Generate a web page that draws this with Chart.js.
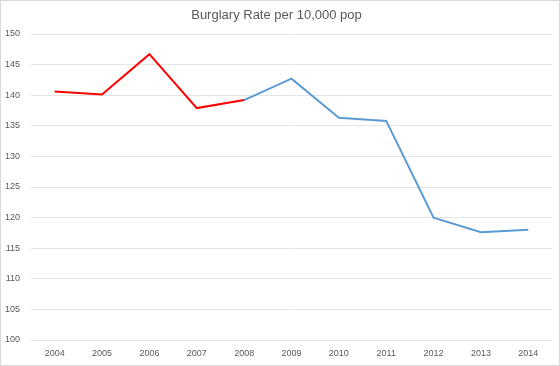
<!DOCTYPE html>
<html>
<head>
<meta charset="utf-8">
<script src="https://cdn.jsdelivr.net/npm/chart.js@4"></script>
<style>
  body { margin: 0; background: #fff; }
  #wrap { width: 558px; height: 364px; border: 1px solid #d9d9d9; }
</style>
</head>
<body>
<div id="wrap"><canvas id="c" width="558" height="364"></canvas></div>
<script>
const years = ['2004', '2005', '2006', '2007', '2008', '2009', '2010', '2011', '2012', '2013', '2014'];
// red part runs up to 2008, blue from 2008 on
const earlyRate = [140.6, 140.1, 146.7, 137.9, 139.2, null, null, null, null, null, null];
const lateRate = [null, null, null, null, 139.2, 142.7, 136.3, 135.8, 120.0, 117.6, 118.0];
const yTicks = [100, 105, 110, 115, 120, 125, 130, 135, 140, 145, 150];

const grey = '#595959';
const font = 'Liberation Sans, Arial, sans-serif';

new Chart(document.getElementById('c'), {
    type: 'line',
    data: {
        labels: years,
        datasets: [
            { data: earlyRate, borderColor: '#ff0000', borderWidth: 2, pointRadius: 0, tension: 0 },
            { data: lateRate, borderColor: '#5b9bd5', borderWidth: 2, pointRadius: 0, tension: 0 }
        ]
    },
    options: {
        responsive: false,
        animation: false,
        layout: { padding: { left: 0, right: 7, top: 0, bottom: 0 } },
        plugins: {
            legend: { display: false },
            tooltip: { enabled: false },
            title: {
                display: true,
                text: 'Burglary Rate per 10,000 pop',
                color: grey,
                font: { family: font, size: 13, weight: 'normal' },
                padding: { top: 7, bottom: 10.4 }
            }
        },
        scales: {
            x: {
                offset: true,
                grid: { display: false, drawTicks: false },
                border: { display: false },
                ticks: { color: grey, font: { family: font, size: 9 }, padding: 8, maxRotation: 0 },
                afterFit: s => { s.height = 25; }
            },
            y: {
                min: 100,
                max: 150,
                afterBuildTicks: s => { s.ticks = yTicks.map(v => ({ value: v })); },
                grid: { color: '#e4e4e4', drawTicks: false },
                border: { display: false },
                ticks: { color: grey, font: { family: font, size: 9 }, padding: 11 },
                afterFit: s => { s.width = 30; }
            }
        }
    }
});
</script>
</body>
</html>
